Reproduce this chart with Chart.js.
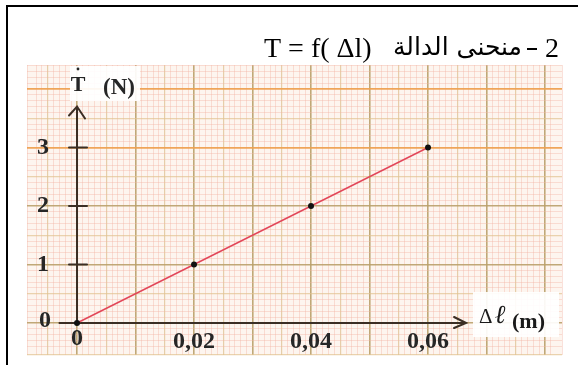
<!DOCTYPE html>
<html><head><meta charset="utf-8">
<script src="https://cdn.jsdelivr.net/npm/chart.js@4"></script>
<style>html,body{margin:0;padding:0;background:#fff}#wrap{width:578px;height:365px;position:relative}</style>
</head><body><div id="wrap"><canvas id="c" width="578" height="365"></canvas></div>
<script>
// ---- data ----
const elongation = [0, 0.02, 0.04, 0.06];      // Δℓ (m)
const tension = [0, 1, 2, 3];                  // T (N)
const xTickValues = [0, 0.02, 0.04, 0.06];
const xTickLabels = ['0', '0,02', '0,04', '0,06'];
const yTickValues = [0, 1, 2, 3];
const yTickLabels = ['0', '1', '2', '3'];
const titleLatin = 'T = f( Δl)';
const titleArabic = 'منحنى الدالة';
const titleNumber = '2';
const yAxisName = ['T', '(N)'];
const xAxisName = ['Δ', 'ℓ', '(m)'];

const points = elongation.map((v, i) => ({x: v, y: tension[i]}));

function xGridStyle(v) {
  const k = Math.round(v * 1000);
  if (k % 10 === 0) return ['rgba(185,160,105,0.9)', 1.6];
  if (k % 5 === 0) return ['rgba(220,190,140,0.7)', 1.2];
  return ['rgba(242,180,165,0.4)', 1];
}
function yGridStyle(v) {
  const k = Math.round(v * 10);
  if (k % 10 === 0) {
    const n = k / 10;
    if (n >= 3) return ['rgba(238,160,80,0.95)', 1.8];
    return ['rgba(185,160,105,0.9)', 1.6];
  }
  if (k % 5 === 0) return ['rgba(225,195,145,0.7)', 1.2];
  return ['rgba(242,180,165,0.4)', 1];
}

const paper = {
  id: 'paper',
  beforeDraw(chart) {
    const {ctx, chartArea: a} = chart;
    ctx.save();
    ctx.fillStyle = '#ffffff';
    ctx.fillRect(0, 0, chart.width, chart.height);
    ctx.fillStyle = '#fdf5ef';
    ctx.fillRect(a.left, a.top, a.right - a.left, a.bottom - a.top);
    ctx.restore();
  },
  beforeDatasetsDraw(chart) {
    const {ctx} = chart;
    const xs = chart.scales.x, ys = chart.scales.y;
    const ox = xs.getPixelForValue(0), oy = ys.getPixelForValue(0);
    ctx.save();
    // white boxes behind axis names
    ctx.fillStyle = 'rgba(255,255,255,0.92)';
    ctx.fillRect(70, 66, 70, 35);
    ctx.fillRect(473, 292, 86, 45);
    ctx.strokeStyle = '#3b2e24';
    ctx.lineWidth = 2;
    ctx.lineCap = 'round';
    // y axis
    const yTop = ys.getPixelForValue(3.7);
    ctx.beginPath();
    ctx.moveTo(ox, oy); ctx.lineTo(ox, yTop);
    ctx.moveTo(ox - 8, yTop + 9); ctx.lineTo(ox, yTop); ctx.lineTo(ox + 8, yTop + 12);
    ctx.stroke();
    // x axis
    const xEnd = xs.getPixelForValue(0.0665);
    const xStart = xs.getPixelForValue(-0.003);
    ctx.beginPath();
    ctx.moveTo(xStart, oy); ctx.lineTo(xEnd, oy);
    ctx.moveTo(xEnd - 12, oy - 6); ctx.lineTo(xEnd, oy); ctx.lineTo(xEnd - 12, oy + 5);
    ctx.stroke();
    // y tick marks
    yTickValues.forEach(v => {
      if (v === 0) return;
      const y = ys.getPixelForValue(v);
      ctx.beginPath(); ctx.moveTo(ox - 8, y); ctx.lineTo(ox + 10, y); ctx.stroke();
    });
    ctx.restore();
  },
  afterDraw(chart) {
    const {ctx} = chart;
    const xs = chart.scales.x, ys = chart.scales.y;
    const ox = xs.getPixelForValue(0), oy = ys.getPixelForValue(0);
    ctx.save();
    ctx.fillStyle = '#262626';
    ctx.font = 'bold 24px "Liberation Serif"';
    ctx.textBaseline = 'middle';
    ctx.textAlign = 'center';
    yTickValues.forEach((v, i) => {
      ctx.fillText(yTickLabels[i], v === 0 ? 45 : 43, ys.getPixelForValue(v) - (v === 0 ? 2 : 0));
    });
    xTickValues.forEach((v, i) => {
      ctx.fillText(xTickLabels[i], xs.getPixelForValue(v), oy + (v === 0 ? 16 : 19));
    });
    // y axis name
    ctx.font = 'bold 22px "Liberation Serif"';
    ctx.fillText(yAxisName[0], 78, 85);
    ctx.beginPath(); ctx.arc(78, 69, 1.4, 0, Math.PI * 2); ctx.fill();
    ctx.font = 'bold 23px "Liberation Serif"';
    ctx.fillText(yAxisName[1], 119, 88);
    // x axis name
    ctx.textAlign = 'left';
    ctx.fillStyle = '#1a1a1a';
    ctx.font = '21px "Liberation Serif"';
    ctx.fillText(xAxisName[0], 479, 317);
    ctx.font = 'italic bold 26px "Liberation Serif"';
    ctx.fillText(xAxisName[1], 495, 316);
    ctx.font = 'bold 22px "Liberation Serif"';
    ctx.fillText(xAxisName[2], 512, 322);
    // title
    ctx.fillStyle = '#000';
    ctx.textBaseline = 'alphabetic';
    ctx.font = '28px "Liberation Serif"';
    ctx.textAlign = 'left';
    ctx.fillText(titleLatin, 264, 57);
    ctx.fillText(titleNumber, 545, 57);
    ctx.fillRect(527, 48, 10, 2);
    ctx.font = '25px "DejaVu Sans"';
    ctx.textAlign = 'right';
    ctx.direction = 'rtl';
    ctx.fillText(titleArabic, 522, 55);
    ctx.direction = 'ltr';
    // frame
    ctx.fillStyle = '#000';
    ctx.fillRect(6, 5, 572, 2);
    ctx.fillRect(6, 5, 2, 360);
    ctx.restore();
  }
};

new Chart(document.getElementById('c'), {
  type: 'scatter',
  data: {
    datasets: [{
      data: points,
      showLine: true,
      borderColor: '#e2485a',
      borderWidth: 1.6,
      pointRadius: 3,
      pointBackgroundColor: '#111',
      pointBorderColor: '#111',
      pointBorderWidth: 0
    }]
  },
  options: {
    responsive: false,
    devicePixelRatio: 1,
    animation: false,
    layout: {padding: {left: 27, top: 65, right: 16, bottom: 10}},
    plugins: {legend: {display: false}, tooltip: {enabled: false}, title: {display: false}},
    scales: {
      x: {
        type: 'linear', min: -0.00855, max: 0.0829,
        ticks: {display: false, stepSize: 0.001, maxTicksLimit: 1000, autoSkip: false},
        border: {display: false},
        grid: {
          drawTicks: false,
          color: c => xGridStyle(c.tick.value)[0],
          lineWidth: c => xGridStyle(c.tick.value)[1]
        }
      },
      y: {
        type: 'linear', min: -0.547, max: 4.41,
        ticks: {display: false, stepSize: 0.1, maxTicksLimit: 1000, autoSkip: false},
        border: {display: false},
        grid: {
          drawTicks: false,
          color: c => yGridStyle(c.tick.value)[0],
          lineWidth: c => yGridStyle(c.tick.value)[1]
        }
      }
    }
  },
  plugins: [paper]
});
</script>
</body></html>
